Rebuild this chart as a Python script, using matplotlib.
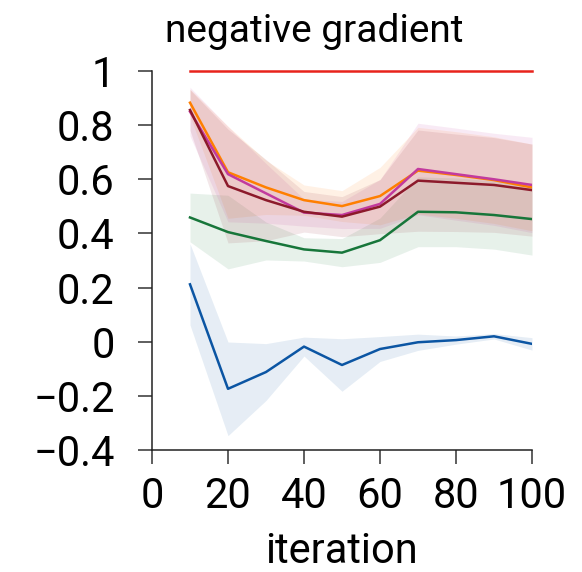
import matplotlib
matplotlib.use("Agg")
import matplotlib.pyplot as plt
import numpy as np

plt.rcParams['font.family'] = ['Roboto', 'DejaVu Sans']

iteration = [10, 20, 30, 40, 50, 60, 70, 80, 90, 100]

# mean and std per series
red_mean = [1.0, 1.0, 1.0, 1.0, 1.0, 1.0, 1.0, 1.0, 1.0, 1.0]
orange_mean = [0.883, 0.626, 0.570, 0.523, 0.501, 0.538, 0.632, 0.616, 0.597, 0.570]
orange_std = [0.05, 0.17, 0.10, 0.056, 0.057, 0.106, 0.16, 0.16, 0.16, 0.16]
magenta_mean = [0.850, 0.619, 0.548, 0.477, 0.468, 0.509, 0.638, 0.619, 0.600, 0.579]
magenta_std = [0.09, 0.176, 0.11, 0.05, 0.05, 0.09, 0.169, 0.17, 0.17, 0.176]
darkred_mean = [0.856, 0.575, 0.523, 0.480, 0.462, 0.499, 0.595, 0.587, 0.579, 0.560]
darkred_std = [0.075, 0.21, 0.15, 0.075, 0.074, 0.10, 0.187, 0.18, 0.175, 0.17]
green_mean = [0.459, 0.405, 0.372, 0.341, 0.329, 0.375, 0.480, 0.478, 0.468, 0.453]
green_std = [0.09, 0.136, 0.07, 0.043, 0.052, 0.082, 0.129, 0.127, 0.126, 0.133]
blue_mean = [0.212, -0.174, -0.112, -0.018, -0.086, -0.027, -0.002, 0.006, 0.020, -0.008]
blue_std = [0.15, 0.173, 0.105, 0.035, 0.097, 0.046, 0.03, 0.015, 0.01, 0.023]

yticks = [-0.4, -0.2, 0, 0.2, 0.4, 0.6, 0.8, 1]
ytick_labels = ['\u22120.4', '\u22120.2', '0', '0.2', '0.4', '0.6', '0.8', '1']
xticks = [0, 20, 40, 60, 80, 100]

series = [
    (blue_mean, blue_std, '#0b55a3'),
    (green_mean, green_std, '#17763a'),
    (orange_mean, orange_std, '#ff7f00'),
    (magenta_mean, magenta_std, '#c23a9e'),
    (darkred_mean, darkred_std, '#8c1a2b'),
]

fig = plt.figure(figsize=(5.82, 5.72), dpi=100)
ax = fig.add_axes([152 / 582, 122 / 572, 380 / 582, 379 / 572])

x = np.array(iteration)
for mean, std, col in series:
    m = np.array(mean)
    s = np.array(std)
    ax.fill_between(x, m - s, m + s, color=col, alpha=0.1, linewidth=0)
for mean, std, col in series:
    ax.plot(x, mean, color=col, lw=1.8)
ax.plot(x, red_mean, color='#e8231c', lw=1.8, clip_on=False)

ax.set_xlim(0, 100)
ax.set_ylim(-0.4, 1.0)
ax.set_xticks(xticks)
ax.set_yticks(yticks)
ax.set_yticklabels(ytick_labels)

ax.spines['top'].set_visible(False)
ax.spines['right'].set_visible(False)
for sp in ['left', 'bottom']:
    ax.spines[sp].set_linewidth(1.1)
    ax.spines[sp].set_color('#222222')
ax.tick_params(axis='both', labelsize=30, length=10, width=1.1, color='#333333')
ax.tick_params(axis='y', pad=17)
ax.tick_params(axis='x', pad=9)

ax.set_xlabel('iteration', fontsize=30, labelpad=10)
ax.set_title('negative gradient', fontsize=28, x=(314 - 152) / 380, pad=21)

fig.savefig('out.png', dpi=100)
